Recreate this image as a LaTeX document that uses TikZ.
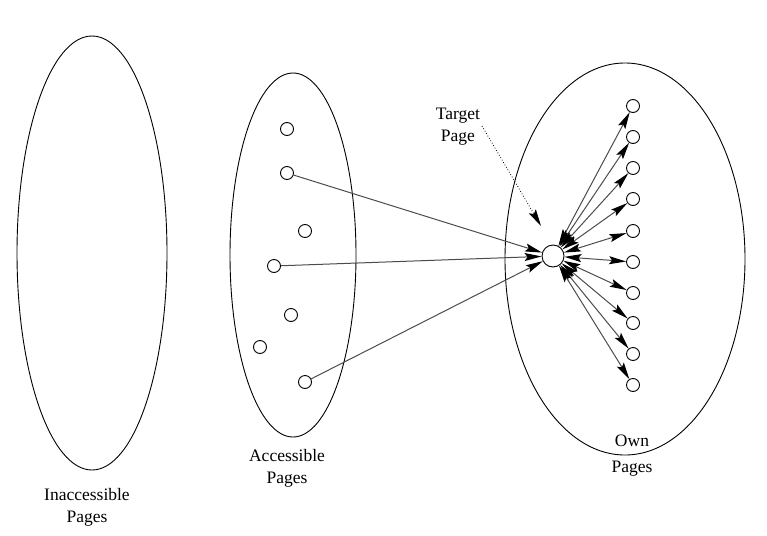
\documentclass[tikz,border=0pt]{standalone}
\usepackage{fontspec}
\setmainfont{Liberation Serif}
\newfontfamily\labfont{Liberation Serif}
\usetikzlibrary{arrows.meta}
\begin{document}
\begin{tikzpicture}[x=1pt,y=-1pt,
  page/.style={circle,draw,line width=0.9pt,minimum size=13pt,inner sep=0pt},
  tgt/.style={circle,draw,line width=0.9pt,minimum size=22pt,inner sep=0pt},
  set/.style={draw,line width=0.9pt},
  link/.style={line width=1pt,draw=black!70,-{Stealth[length=17pt,width=8pt,inset=3pt,black]}},
  blink/.style={line width=1pt,draw=black!70,{Stealth[length=17pt,width=8pt,inset=3pt,black]}-{Stealth[length=17pt,width=8pt,inset=3pt,black]}},
  lab/.style={font=\labfont\fontsize{17.5}{22}\selectfont,align=center}]
\useasboundingbox (0,0) rectangle (767,535);
% sets
\draw[set] (92,253) ellipse [x radius=75, y radius=217];
\draw[set] (293,255) ellipse [x radius=63, y radius=182];
\draw[set] (625,259) ellipse [x radius=120, y radius=196];
% accessible pages
\node[page] (a1) at (287,129) {};
\node[page] (a2) at (287,173) {};
\node[page] (a3) at (305,231) {};
\node[page] (a4) at (274,266) {};
\node[page] (a5) at (291,315) {};
\node[page] (a6) at (260,347) {};
\node[page] (a7) at (305,382) {};
% target
\node[tgt] (t) at (553,256) {};
% own pages
\foreach \i/\y in {1/106,2/137,3/168,4/199,5/231,6/262,7/293,8/323,9/354,10/385}{
  \node[page] (o\i) at (633,\y) {};
  \draw[blink] (t) -- (o\i);
}
\draw[link] (a2) -- (t);
\draw[link] (a4) -- (t);
\draw[link] (a7) -- (t);
% labels
\node[lab] (tl) at (458,127) {Target\\Page};
\coordinate (tlend) at (541,226);
\draw[dotted,line width=0.8pt,-{Stealth[length=17pt,width=8pt,inset=3pt]}] (482,126) -- (tlend);
\node[lab] (li) at (87,507) {Inaccessible\\Pages};
\node[lab] (la) at (287,468) {Accessible\\Pages};
\node[lab,font=\labfont\fontsize{17.5}{26}\selectfont] (lo) at (632,456) {Own\\Pages};
\end{tikzpicture}
\end{document}
